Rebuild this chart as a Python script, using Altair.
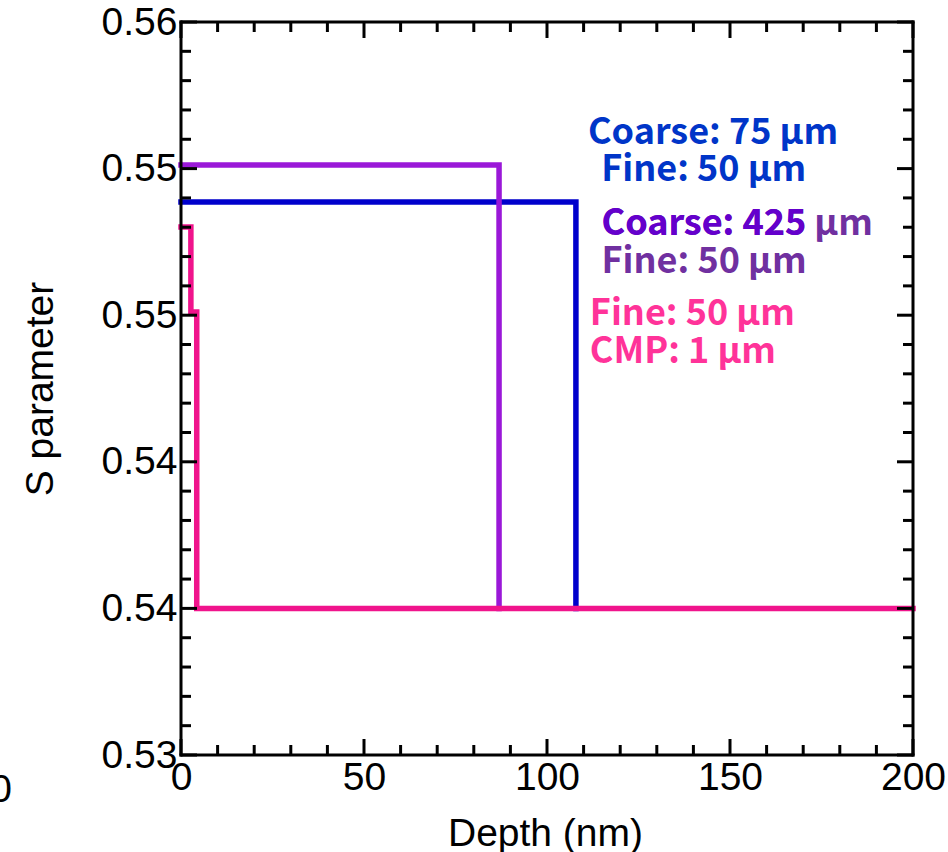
import altair as alt
import pandas as pd

# ---- data ----
blue_depth = [0, 107.9]
blue_s = [0.55263, 0.536]
purple_depth = [0, 86.9]
purple_s = [0.55415, 0.536]
pink_depth = [0, 2.7, 4.3, 200]
pink_s = [0.55161, 0.54813, 0.536, 0.536]

x_major = [0, 50, 100, 150, 200]
x_minor = [10, 20, 30, 40, 60, 70, 80, 90, 110, 120, 130, 140, 160, 170, 180, 190]
y_major = [0.53, 0.536, 0.542, 0.548, 0.554, 0.56]
y_minor = [0.5312, 0.5324, 0.5336, 0.5348, 0.5372, 0.5384, 0.5396, 0.5408,
           0.5432, 0.5444, 0.5456, 0.5468, 0.5492, 0.5504, 0.5516, 0.5528,
           0.5552, 0.5564, 0.5576, 0.5588]

# annotation lines (later rows drawn on top)
ann_text = ["Coarse: 75 µm", "Fine: 50 µm", "Coarse: 425 µm", "Coarse: 425", "Fine: 50 µm",
            "Fine: 50 µm", "CMP: 1 µm"]
ann_depth = [111.2, 114.8, 114.9, 114.9, 114.9, 111.7, 111.7]
ann_s = [0.55546, 0.55394, 0.55173, 0.55173, 0.55018, 0.54805, 0.54649]
ann_color = ["#0035C8", "#0035C8", "#7030A0", "#6400CC", "#7030A0", "#FF3399", "#FF3399"]

W, H = 732, 733
FONT = "Liberation Sans"

xs = alt.Scale(domain=[0, 200], nice=False, zero=False)
ys = alt.Scale(domain=[0.53, 0.56], nice=False, zero=False)

x_axis = alt.Axis(values=x_major, format="d", ticks=False, tickSize=0, domain=False, grid=False,
                  labelFont=FONT, labelFontSize=39, labelColor="black", labelPadding=3,
                  labelFlush=False, labelOverlap=False,
                  title="Depth (nm)", titleFont=FONT, titleFontSize=39, titleFontWeight="normal",
                  titleColor="black", titleX=W / 2 - 2, titleY=90, titleBaseline="alphabetic")
y_axis = alt.Axis(values=y_major, format=".2f", ticks=False, tickSize=0, domain=False, grid=False,
                  labelFont=FONT, labelFontSize=39, labelColor="black", labelPadding=4,
                  labelFlush=False, labelOverlap=False,
                  title="S parameter", titleFont=FONT, titleFontSize=39, titleFontWeight="normal",
                  titleColor="black", titleX=-129, titleY=H / 2, titleBaseline="alphabetic",
                  titleAngle=270)


def series(depth, s, color):
    df = pd.DataFrame({"depth": depth, "s": s})
    return alt.Chart(df).mark_line(interpolate="step-after", strokeWidth=5.5,
                                   strokeCap="square", color=color).encode(
        x=alt.X("depth:Q", scale=xs, axis=x_axis),
        y=alt.Y("s:Q", scale=ys, axis=y_axis),
    )


blue = series(blue_depth, blue_s, "#0000CC")
purple = series(purple_depth, purple_s, "#9A18D8")
pink = series(pink_depth, pink_s, "#F0148C")

tick_style = dict(color="black", strokeWidth=3)
xmaj = pd.DataFrame({"v": x_major})
xmin = pd.DataFrame({"v": x_minor})
ymaj = pd.DataFrame({"v": y_major})
ymin = pd.DataFrame({"v": y_minor})


def xticks(df, length):
    b = alt.Chart(df).mark_rule(**tick_style).encode(
        x=alt.X("v:Q", scale=xs), y=alt.value(H), y2=alt.value(H - length))
    t = alt.Chart(df).mark_rule(**tick_style).encode(
        x=alt.X("v:Q", scale=xs), y=alt.value(0), y2=alt.value(length))
    return b + t


def yticks(df, length):
    l = alt.Chart(df).mark_rule(**tick_style).encode(
        y=alt.Y("v:Q", scale=ys), x=alt.value(0), x2=alt.value(length))
    r = alt.Chart(df).mark_rule(**tick_style).encode(
        y=alt.Y("v:Q", scale=ys), x=alt.value(W), x2=alt.value(W - length))
    return l + r


frame_src = pd.DataFrame({"k": [0]})
frame_style = dict(color="black", strokeWidth=3, strokeCap="square")
frame = alt.layer(
    alt.Chart(frame_src).mark_rule(**frame_style).encode(x=alt.value(0), y=alt.value(0), y2=alt.value(H)),
    alt.Chart(frame_src).mark_rule(**frame_style).encode(x=alt.value(W), y=alt.value(0), y2=alt.value(H)),
    alt.Chart(frame_src).mark_rule(**frame_style).encode(y=alt.value(0), x=alt.value(0), x2=alt.value(W)),
    alt.Chart(frame_src).mark_rule(**frame_style).encode(y=alt.value(H), x=alt.value(0), x2=alt.value(W)),
)

ann = pd.DataFrame({"text": ann_text, "depth": ann_depth, "s": ann_s, "color": ann_color,
                    "order": list(range(len(ann_text)))})
labels = alt.Chart(ann).mark_text(align="left", baseline="middle", font="Noto Sans CJK KR",
                                  fontWeight="bold", fontSize=36).encode(
    x=alt.X("depth:Q", scale=xs), y=alt.Y("s:Q", scale=ys),
    text="text:N", color=alt.Color("color:N", scale=None), order="order:Q")

stray = alt.Chart(pd.DataFrame({"t": ["0"]})).mark_text(
    align="right", baseline="middle", font=FONT, fontSize=39, color="black").encode(
    x=alt.value(-169), y=alt.value(768), text="t:N")

chart = alt.layer(
    blue, purple, pink,
    xticks(xmaj, 16), xticks(xmin, 10), yticks(ymaj, 16), yticks(ymin, 10),
    frame, labels, stray,
).properties(
    width=W, height=H,
    autosize=alt.AutoSizeParams(type="none"),
    padding={"left": 181, "top": 22, "right": 35, "bottom": 97},
).configure_view(stroke=None).configure(background="white")

chart.save("out.html", embed_options={"renderer": "svg", "actions": False})
